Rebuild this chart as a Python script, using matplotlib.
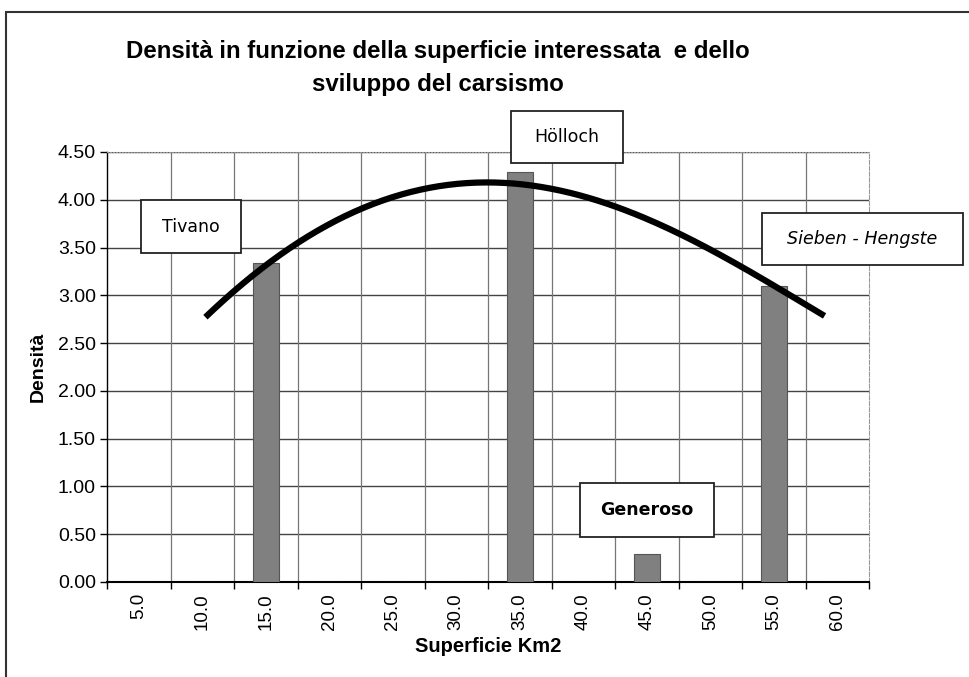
import numpy as np
import matplotlib.pyplot as plt
from matplotlib.patches import Rectangle

# categories on x axis (Km2) and bar heights
categorie = ['5.0', '10.0', '15.0', '20.0', '25.0', '30.0', '35.0', '40.0', '45.0', '50.0', '55.0', '60.0']
densita = [0, 0, 3.34, 0, 0, 0, 4.29, 0, 0.29, 0, 3.10, 0]

# trend curve (category index, value)
curva_idx = [1.05, 2, 3, 4, 5, 6, 7, 8, 9, 10, 10.8]
curva_val = [2.78, 3.29, 3.76, 4.03, 4.17, 4.16, 4.03, 3.80, 3.48, 3.11, 2.78]

etichette = ['Tivano', 'Hölloch', 'Sieben - Hengste', 'Generoso']

plt.rcParams['font.family'] = ['Liberation Sans', 'DejaVu Sans']

W, H = 969, 677
fig = plt.figure(figsize=(W / 100, H / 100), dpi=100)
ax = fig.add_axes([107 / W, 1 - 582 / H, 762 / W, 430 / H])

x = np.arange(len(categorie))
ax.bar(x, densita, width=0.41, color='#808080', edgecolor='#555555', linewidth=0.8, zorder=3)

# smooth trendline through the read points
coef = np.polyfit(curva_idx, curva_val, 4)
xs = np.linspace(curva_idx[0], curva_idx[-1], 200)
ax.plot(xs, np.polyval(coef, xs), color='black', lw=4.5, zorder=4, solid_capstyle='butt')

ax.set_xlim(-0.5, len(categorie) - 0.5)
ax.set_ylim(0, 4.5)
yt = np.arange(0, 4.51, 0.5)
ax.set_yticks(yt)
ax.set_yticklabels(['%.2f' % v for v in yt], fontsize=14)
ax.set_xticks(x)
ax.set_xticklabels(categorie, rotation=90, fontsize=13.5)
ax.tick_params(axis='x', length=0, pad=8)
ax.tick_params(axis='y', length=5, width=1, pad=3)
ax.set_xticks(np.arange(-0.5, len(categorie)), minor=True)
ax.tick_params(axis='x', which='minor', length=5, width=1)

for v in yt[1:]:
    ax.axhline(v, color='#444444', lw=1.0, zorder=1)
for b in np.arange(0.5, len(categorie) - 0.5):
    ax.axvline(b, color='#777777', lw=0.9, zorder=1)

ax.spines['top'].set_color('#999999')
ax.spines['top'].set_linestyle(':')
ax.spines['right'].set_color('#999999')
ax.spines['right'].set_linestyle('--')
ax.spines['right'].set_linewidth(0.8)
ax.spines['left'].set_linewidth(1.0)
ax.spines['bottom'].set_linewidth(1.5)

ax.set_ylabel('Densità', fontsize=14, fontweight='bold', labelpad=8)
ax.set_xlabel('Superficie Km2', fontsize=14.5, fontweight='bold', labelpad=5)

fig.text(438 / W, 1 - 68 / H, 'Densità in funzione della superficie interessata  e dello\nsviluppo del carsismo',
         ha='center', va='center', fontsize=17.3, fontweight='bold', linespacing=1.55)


def etichetta(testo, x0, y0, x1, y1, **kw):
    fig.patches.append(Rectangle((x0 / W, 1 - y1 / H), (x1 - x0) / W, (y1 - y0) / H,
                                 transform=fig.transFigure, facecolor='white',
                                 edgecolor='#222222', lw=1.3, zorder=5))
    fig.text((x0 + x1) / 2 / W, 1 - (y0 + y1) / 2 / H, testo, ha='center', va='center',
             family='DejaVu Sans', zorder=6, **kw)


etichetta(etichette[0], 141, 200, 241, 253, fontsize=12.5)
etichetta(etichette[1], 511, 111, 623, 163, fontsize=12.5)
etichetta(etichette[2], 762, 213, 963, 265, fontsize=12.6, style='italic')
etichetta(etichette[3], 580, 483, 714, 537, fontsize=12.5, fontweight='bold')

# outer frame of the picture
fig.patches.append(Rectangle((6 / W, -0.01), 1.2, 1 - 12 / H + 0.01, transform=fig.transFigure,
                             fill=False, edgecolor='#333333', lw=1.5))

fig.savefig('out.png', dpi=100)
